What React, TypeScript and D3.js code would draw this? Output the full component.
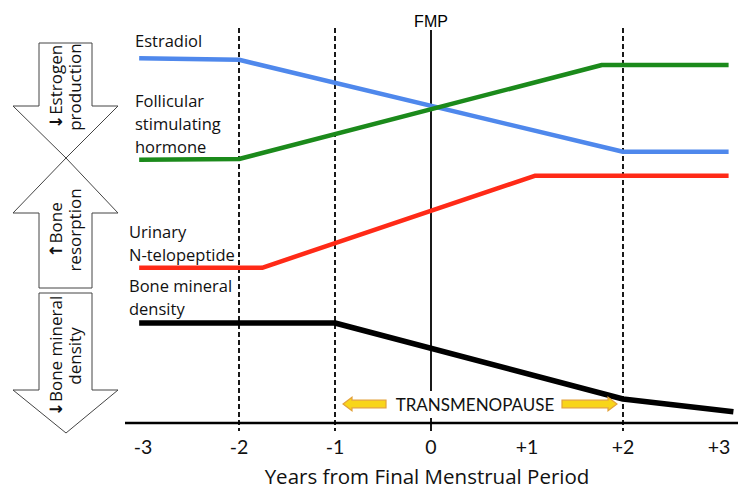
import React from "react";
import * as d3 from "d3";

// ---- data (years from FMP, relative level 0-100) ----
const xTicks = [-3, -2, -1, 0, 1, 2, 3];
const xTickLabels = ["-3", "-2", "-1", "0", "+1", "+2", "+3"];
const dashedYears = [-2, -1, 2];
const fmpYear = 0;

const estradiol: [number, number][] = [[-3.04, 91.2], [-2, 90.8], [2, 67.8], [3.1, 67.8]];
const fsh: [number, number][] = [[-3.04, 65.8], [-2, 66], [1.78, 89.5], [3.1, 89.5]];
const ntx: [number, number][] = [[-3.04, 38.8], [-1.76, 38.8], [1.08, 61.8], [3.1, 61.8]];
const bmd: [number, number][] = [[-3.04, 25], [-1, 25], [2, 6], [3.15, 2.8]];

const W = 750;
const H = 495;
const FONT = "'Open Sans', Lato, sans-serif";
const LATO = "Lato, 'Open Sans', sans-serif";

export default function App() {
  const x = d3.scaleLinear().domain([-3, 3]).range([143, 719]);
  const y = d3.scaleLinear().domain([0, 100]).range([423, 23]);
  const line = d3.line<[number, number]>().x((d) => x(d[0])).y((d) => y(d[1]));

  const series = [
    { data: estradiol, color: "#4f88ec", w: 4.5 },
    { data: fsh, color: "#1b8a1b", w: 4.5 },
    { data: ntx, color: "#ff2a17", w: 4.5 },
    { data: bmd, color: "#000000", w: 5.5 },
  ];

  const axisY = y(0);

  const blockArrow = (top: number, headBase: number, tip: number) => {
    const sl = 39, sr = 92, wl = 13, wr = 118, cx = 66;
    return `M${sl},${top} L${sr},${top} L${sr},${headBase} L${wr},${headBase} L${cx},${tip} L${wl},${headBase} L${sl},${headBase} Z`;
  };

  const yellowArrow = (tail: number, tipX: number, cy: number) => {
    const dir = tipX > tail ? 1 : -1;
    const headLen = 9;
    const hb = tipX - dir * headLen;
    const sh = 3.8, hh = 6.8;
    return `M${tail},${cy - sh} L${hb},${cy - sh} L${hb},${cy - hh} L${tipX},${cy} L${hb},${cy + hh} L${hb},${cy + sh} L${tail},${cy + sh} Z`;
  };

  const leftText = (sym: string, first: string, second: string, cy: number) => (
    <g fontFamily={FONT} fontSize={17} fill="#111">
      <text transform={`translate(62,${cy}) rotate(-90)`} textAnchor="middle">
        <tspan fontFamily="'DejaVu Sans', sans-serif" fontWeight="bold" fontSize={17}>{sym}</tspan>
        {first}
      </text>
      <text transform={`translate(81,${cy}) rotate(-90)`} textAnchor="middle">
        {second}
      </text>
    </g>
  );

  return (
    <svg width={W} height={H} style={{ position: "absolute", left: 0, top: 0, background: "#fff" }}>
      <rect width={W} height={H} fill="#fff" />

      {/* left block arrows */}
      <path d={blockArrow(43, 106, 158)} fill="#fff" stroke="#444" strokeWidth={1} />
      <path d={blockArrow(288, 213, 158)} fill="#fff" stroke="#444" strokeWidth={1} />
      <path d={blockArrow(293, 390, 433)} fill="#fff" stroke="#444" strokeWidth={1} />

      {leftText("\u2193", "Estrogen", "production", 87)}
      {leftText("\u2191", "Bone", "resorption", 230)}
      {leftText("\u2193", "Bone mineral", "density", 356)}

      {/* dashed reference lines */}
      {dashedYears.map((v) => (
        <line key={v} x1={x(v)} x2={x(v)} y1={28} y2={431} stroke="#000" strokeWidth={1.8} strokeDasharray="5,3" />
      ))}
      {/* FMP */}
      <line x1={x(fmpYear)} x2={x(fmpYear)} y1={30} y2={431} stroke="#000" strokeWidth={1.8} />
      <text x={x(fmpYear)} y={27} textAnchor="middle" fontFamily="'Liberation Sans', Arial, sans-serif" fontSize={16} fill="#000">
        FMP
      </text>

      {/* series */}
      {series.map((s, i) => (
        <path key={i} d={line(s.data) || ""} fill="none" stroke={s.color} strokeWidth={s.w} strokeLinejoin="round" />
      ))}

      {/* series labels */}
      <g fontFamily={FONT} fontSize={16.5} fill="#111">
        <text x={135} y={47}>Estradiol</text>
        <text x={135} y={107}>Follicular</text>
        <text x={135} y={130}>stimulating</text>
        <text x={135} y={153}>hormone</text>
        <text x={129} y={238}>Urinary</text>
        <text x={129} y={261}>N-telopeptide</text>
        <text x={129} y={292}>Bone mineral</text>
        <text x={129} y={315}>density</text>
      </g>

      {/* transmenopause */}
      <rect x={393} y={391} width={165} height={27} fill="#fff" />
      <path d={yellowArrow(386, 343, 404)} fill="#f8d51a" stroke="#e3a23a" strokeWidth={1.2} />
      <path d={yellowArrow(562, 617, 404)} fill="#f8d51a" stroke="#e3a23a" strokeWidth={1.2} />
      <text x={475} y={411} textAnchor="middle" fontFamily={LATO} fontSize={17} fill="#111">
        TRANSMENOPAUSE
      </text>

      {/* x axis */}
      <line x1={125} x2={738} y1={axisY} y2={axisY} stroke="#000" strokeWidth={2.5} />
      {xTicks.map((v, i) => (
        <text key={v} x={x(v)} y={454} textAnchor="middle" fontFamily={LATO} fontSize={19.5} fill="#111">
          {xTickLabels[i]}
        </text>
      ))}
      <text x={427} y={484} textAnchor="middle" fontFamily={FONT} fontSize={20.5} fill="#111">
        Years from Final Menstrual Period
      </text>
    </svg>
  );
}
